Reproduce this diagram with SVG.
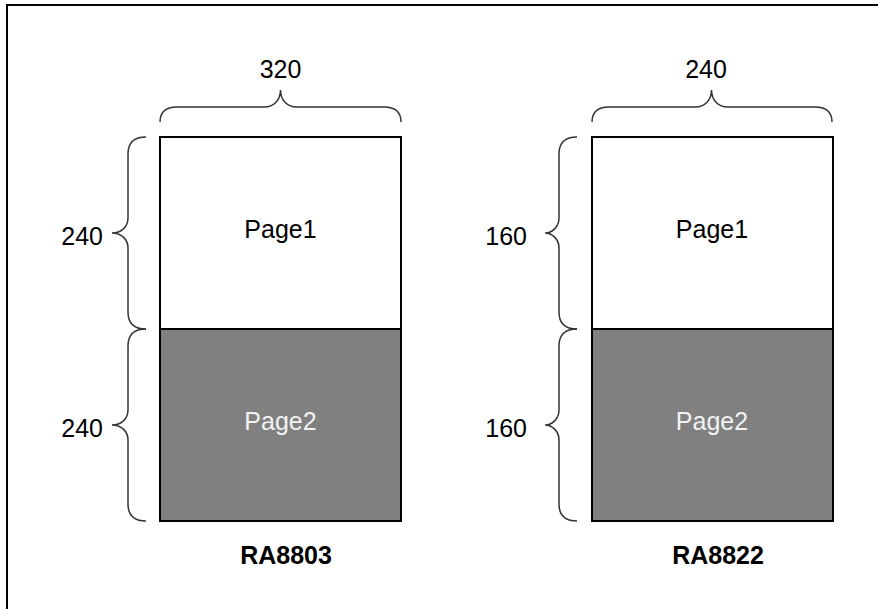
<svg xmlns="http://www.w3.org/2000/svg" width="878" height="609" viewBox="0 0 878 609">
<style>
.brace{fill:none;stroke:#333;stroke-width:1.5}
.box{stroke:#000;stroke-width:2}
.t{font-family:"Liberation Sans",Arial,sans-serif;font-size:25px;fill:#000}
.b{font-weight:bold}
</style>
<rect width="878" height="609" fill="#fff"/>
<path d="M7,609 V5 H878" fill="none" stroke="#000" stroke-width="2"/>
<g id="ra8803">
<rect id="ra8803-page1" class="box" x="160" y="137" width="241" height="192" fill="#fff"/>
<rect id="ra8803-page2" class="box" x="160" y="329" width="241" height="192" fill="#808080"/>
<text class="t" x="280.5" y="237.5" text-anchor="middle">Page1</text>
<text class="t" x="280.5" y="430" text-anchor="middle" fill="#f2f2f2" style="fill:#f2f2f2">Page2</text>
<text class="t b" x="286" y="564" text-anchor="middle">RA8803</text>
</g>
<g id="ra8822">
<rect id="ra8822-page1" class="box" x="592" y="137" width="241" height="192" fill="#fff"/>
<rect id="ra8822-page2" class="box" x="592" y="329" width="241" height="192" fill="#808080"/>
<text class="t" x="712" y="237.5" text-anchor="middle">Page1</text>
<text class="t" x="712" y="430" text-anchor="middle" style="fill:#f2f2f2">Page2</text>
<text class="t b" x="718" y="564" text-anchor="middle">RA8822</text>
</g>
<g id="braces">
<path class="brace" d="M160,122 C160,112 165,107 177,107 L264,107 C274,107 280.5,100 280.5,90 C280.5,100 287,107 297,107 L384,107 C396,107 401,112 401,122"/>
<path class="brace" d="M146,137 C134,137 128,142 128,154 L128,218 C128,227 121,233 112,233 C121,233 128,239 128,248 L128,312 C128,324 134,329 146,329"/>
<path class="brace" d="M146,329 C134,329 128,334 128,346 L128,410 C128,419 121,425 112,425 C121,425 128,431 128,440 L128,504 C128,516 134,521 146,521"/>
<path class="brace" d="M592,122 C592,112 597,107 609,107 L695,107 C705,107 711.5,100 711.5,90 C711.5,100 718,107 728,107 L815,107 C827,107 832,112 832,122"/>
<path class="brace" d="M577,137 C565,137 559,142 559,154 L559,218 C559,227 552,233 545,233 C552,233 559,239 559,248 L559,312 C559,324 565,329 577,329"/>
<path class="brace" d="M577,329 C565,329 559,334 559,346 L559,410 C559,419 552,425 545,425 C552,425 559,431 559,440 L559,504 C559,516 565,521 577,521"/>
</g>
<g id="labels">
<text class="t" x="280.5" y="78" text-anchor="middle">320</text>
<text class="t" x="706" y="78" text-anchor="middle">240</text>
<text class="t" x="103" y="245" text-anchor="end">240</text>
<text class="t" x="103" y="437" text-anchor="end">240</text>
<text class="t" x="527" y="245" text-anchor="end">160</text>
<text class="t" x="527" y="437" text-anchor="end">160</text>
</g>
</svg>
